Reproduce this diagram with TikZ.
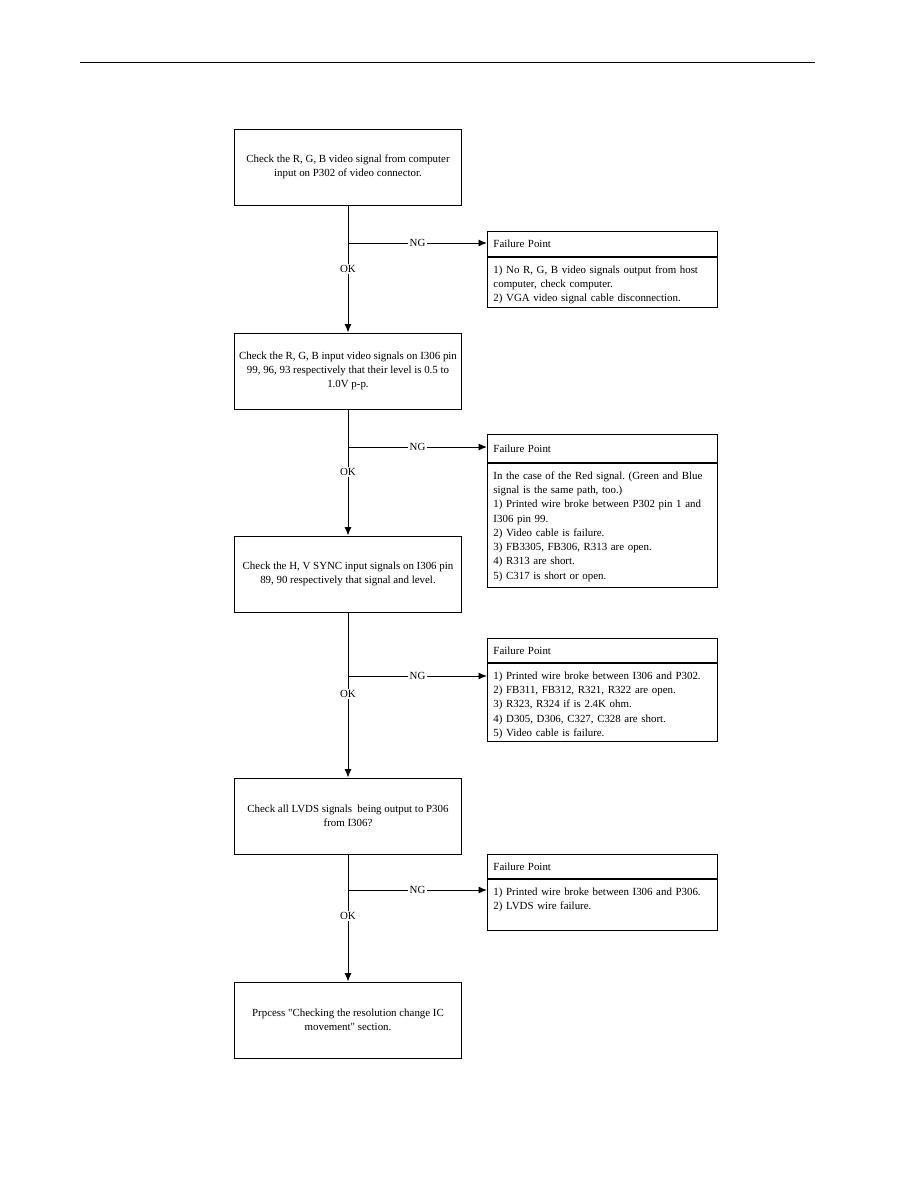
\documentclass[tikz,border=0pt]{standalone}
\usepackage{fontspec}
\setmainfont{Liberation Serif}
\usetikzlibrary{arrows.meta,positioning}
\frenchspacing

\begin{document}
\begin{tikzpicture}[
      x=0.02cm, y=-0.02cm,
      font=\fontsize{6.2}{8.1}\selectfont,
      chkbox/.style={draw, line width=0.55pt, align=center, inner sep=0pt, minimum width=4.56cm, minimum height=1.52cm},
      failhd/.style={draw, line width=0.55pt, anchor=north west, align=left, text width=4.36cm, inner xsep=0.12cm, inner ysep=0pt},
      failbd/.style={draw, line width=0.55pt, align=left, text width=4.36cm, inner xsep=0.12cm, inner ysep=0.12cm, text height=0.2cm},
      lbl/.style={fill=white, inner sep=1pt},
      arr/.style={-{Latex[length=1.7mm, width=1.4mm]}, line width=0.55pt}
    ]
      \useasboundingbox (0,0) rectangle (918,1188);
      \draw[line width=0.55pt] (80,62) -- (815,62);

      % main checks
      \node[chkbox] (c1) at (348,167) {Check the R, G, B video signal from computer\\input on P302 of video connector.};
      \node[chkbox] (c2) at (348,371) {Check the R, G, B input video signals on I306 pin\\99, 96, 93 respectively that their level is 0.5 to\\1.0V p-p.};
      \node[chkbox] (c3) at (348,574) {Check the H, V SYNC input signals on I306 pin\\89, 90 respectively that signal and level.};
      \node[chkbox] (c4) at (348,816) {Check all LVDS signals\ \ being output to P306\\from I306?};
      \node[chkbox] (c5) at (348,1020) {Prpcess \textquotedbl Checking the resolution change IC\\movement\textquotedbl\ section.};

      % failure points
      \node[failhd, minimum height=0.5cm] (h1) at (487,231) {Failure Point};
      \node[failbd, below=0pt of h1, text depth=0.56cm] (f1) {1) No R, G, B video signals output from host\\computer, check computer.\\2) VGA video signal cable disconnection.};
      \node[failhd, minimum height=0.56cm] (h2) at (487,434) {Failure Point};
      \node[failbd, below=0pt of h2, text depth=2.04cm] (f2) {In the case of the Red signal. (Green and Blue\\signal is the same path, too.)\\1) Printed wire broke between P302 pin 1 and\\I306 pin 99.\\2) Video cable is failure.\\3) FB3305, FB306, R313 are open.\\4) R313 are short.\\5) C317 is short or open.};
      \node[failhd, minimum height=0.48cm] (h3) at (487,638) {Failure Point};
      \node[failbd, below=0pt of h3, text depth=1.12cm] (f3) {1) Printed wire broke between I306 and P302.\\2) FB311, FB312, R321, R322 are open.\\3) R323, R324 if is 2.4K ohm.\\4) D305, D306, C327, C328 are short.\\5) Video cable is failure.};
      \node[failhd, minimum height=0.48cm] (h4) at (487,854) {Failure Point};
      \node[failbd, below=0pt of h4, text depth=0.58cm] (f4) {1) Printed wire broke between I306 and P306.\\2) LVDS wire failure.};

      % junctions
      \coordinate (j1) at (348,243);
      \coordinate (j2) at (348,447);
      \coordinate (j3) at (348,676);
      \coordinate (j4) at (348,890);

      \draw[line width=0.55pt] (c1) -- (j1);
      \draw[arr] (j1) -- (c2);
      \draw[arr] (j1) -- (j1 -| h1.west) node[lbl, pos=0.5] {NG};
      \draw[line width=0.55pt] (c2) -- (j2);
      \draw[arr] (j2) -- (c3);
      \draw[arr] (j2) -- (j2 -| h2.west) node[lbl, pos=0.5] {NG};
      \draw[line width=0.55pt] (c3) -- (j3);
      \draw[arr] (j3) -- (c4);
      \draw[arr] (j3) -- (j3 -| f3.west) node[lbl, pos=0.5] {NG};
      \draw[line width=0.55pt] (c4) -- (j4);
      \draw[arr] (j4) -- (c5);
      \draw[arr] (j4) -- (j4 -| f4.west) node[lbl, pos=0.5] {NG};

      \node[lbl] (ok1) at (348,269) {OK};
      \node[lbl] (ok2) at (348,472) {OK};
      \node[lbl] (ok3) at (348,694) {OK};
      \node[lbl] (ok4) at (348,916) {OK};
    \end{tikzpicture}
\end{document}
